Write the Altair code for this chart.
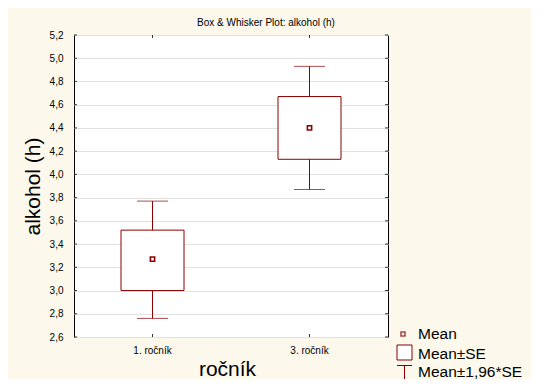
import altair as alt
import pandas as pd

categories = ["1. ročník", "3. ročník"]
means = [3.27, 4.40]
se_low = [3.00, 4.13]
se_high = [3.52, 4.67]
ci_low = [2.76, 3.87]
ci_high = [3.77, 4.93]
y_ticks = [2.6, 2.8, 3.0, 3.2, 3.4, 3.6, 3.8, 4.0, 4.2, 4.4, 4.6, 4.8, 5.0, 5.2]
legend_labels = ["Mean", "Mean±SE", "Mean±1,96*SE"]

RED = "#8B0000"
W, H = 314, 302

df = pd.DataFrame({
    "cat": categories, "mean": means, "se_low": se_low, "se_high": se_high,
    "ci_low": ci_low, "ci_high": ci_high,
})
ticks_df = pd.DataFrame({"v": y_ticks})

xs = alt.Scale(domain=categories, paddingInner=0, paddingOuter=0)
ys = alt.Scale(domain=[2.6, 5.2], nice=False, zero=False)

x_axis = alt.Axis(title="ročník", labelAngle=0, ticks=False, domain=False,
                  labelFontSize=10, labelFont="Liberation Sans", labelColor="#000",
                  labelBaseline="alphabetic", labelPadding=16,
                  titleFontSize=21, titleFont="Liberation Sans", titleFontWeight="normal",
                  titleColor="#000", titleX=153, titleY=38, titleBaseline="alphabetic",
                  titleAlign="center")
y_axis = alt.Axis(title="alkohol (h)", values=y_ticks, ticks=False, domain=False,
                  labelOverlap=False,
                  labelExpr="replace(format(datum.value, '.1f'), '.', ',')",
                  labelFontSize=10, labelFont="Liberation Sans", labelColor="#000", labelPadding=11,
                  gridColor="#E2E2E2", gridWidth=1.2,
                  titleFontSize=21, titleFont="Liberation Sans", titleFontWeight="normal",
                  titleColor="#000", titleX=-35, titleY=H / 2, titleBaseline="alphabetic",
                  titleAlign="center", titleAngle=-90)


def xc():
    return alt.X("cat:N", scale=xs, sort=categories, axis=x_axis)


def yq(f):
    return alt.Y(f, scale=ys, axis=y_axis)


base = alt.Chart(df)

box = base.mark_bar(size=63, fill="white", stroke=RED, strokeWidth=1).encode(
    x=xc(), y=yq("se_low:Q"), y2="se_high:Q")
wl = base.mark_rule(color=RED, strokeWidth=1).encode(x=xc(), y=yq("ci_low:Q"), y2="se_low:Q")
wh = base.mark_rule(color=RED, strokeWidth=1).encode(x=xc(), y=yq("se_high:Q"), y2="ci_high:Q")
cl = base.mark_tick(color=RED, size=31, thickness=1).encode(x=xc(), y=yq("ci_low:Q"))
ch = base.mark_tick(color=RED, size=31, thickness=1).encode(x=xc(), y=yq("ci_high:Q"))
mean_pt = base.mark_square(size=18, filled=False, fill="white", stroke=RED, strokeWidth=1.6,
                           opacity=1).encode(x=xc(), y=yq("mean:Q"))

# inward ticks on the frame
tk = alt.Chart(ticks_df)
lt = tk.mark_rule(color="#333", strokeWidth=1).encode(
    y=yq("v:Q"), x=alt.value(0), x2=alt.value(3))
rt = tk.mark_rule(color="#333", strokeWidth=1).encode(
    y=yq("v:Q"), x=alt.value(W - 3), x2=alt.value(W))
tt = base.mark_rule(color="#333", strokeWidth=1).encode(
    x=xc(), y=alt.value(0), y2=alt.value(3))
bt = base.mark_rule(color="#333", strokeWidth=1).encode(
    x=xc(), y=alt.value(H - 3), y2=alt.value(H))

one = alt.Chart(pd.DataFrame({"t": ["Box & Whisker Plot: alkohol (h)"]}))
title = one.mark_text(font="Liberation Sans", fontSize=10, align="center", baseline="alphabetic",
                      color="#000").encode(text="t:N", x=alt.value(192), y=alt.value(-9))

leg_layers = []
for lbl, yp in zip(legend_labels, [304, 324, 342]):
    leg_layers.append(
        one.mark_text(font="Liberation Sans", fontSize=15.5, align="left", baseline="alphabetic",
                      color="#000", text=lbl).encode(x=alt.value(344), y=alt.value(yp)))
leg_mean = one.mark_square(size=16, filled=False, fill="white", stroke=RED, strokeWidth=1.6).encode(
    x=alt.value(329), y=alt.value(299))
leg_box = one.mark_rect(fill="white", stroke=RED, strokeWidth=1).encode(
    x=alt.value(323), x2=alt.value(338), y=alt.value(310), y2=alt.value(325))
leg_t1 = one.mark_rule(color=RED, strokeWidth=1).encode(
    x=alt.value(323), x2=alt.value(338), y=alt.value(330.5))
leg_t2 = one.mark_rule(color=RED, strokeWidth=1).encode(
    x=alt.value(330.5), y=alt.value(330.5), y2=alt.value(344))

chart = alt.layer(
    box, wl, wh, cl, ch, mean_pt, lt, rt, tt, bt, title,
    *leg_layers, leg_mean, leg_box, leg_t1, leg_t2,
).properties(
    width=W, height=H,
    autosize=alt.AutoSizeParams(type="none"),
    padding={"left": 66, "top": 27, "right": 143, "bottom": 42},
    background="#FCF8EC",
).configure_view(stroke="black", strokeWidth=1, fill="white")

chart.save("out.html", embed_options={"renderer": "svg", "actions": False})
